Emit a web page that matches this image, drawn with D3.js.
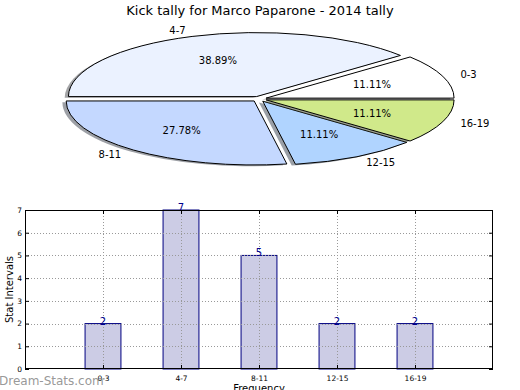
<!DOCTYPE html>
<html>
<head>
<style>
body { margin: 0; background: #fff; }
svg text { font-family: "DejaVu Sans", sans-serif; }
</style>
<script src="https://d3js.org/d3.v7.min.js"></script>
</head>
<body>
<svg width="520" height="390"></svg>
<script>
// data
var categories = ["0-3", "4-7", "8-11", "12-15", "16-19"];
var counts = [2, 7, 5, 2, 2];
var sliceColors = ["#ffffff", "#ebf2ff", "#c4d8ff", "#b0d4ff", "#d0e98a"];
var explode = [0.04, 0.04, 0.04, 0.04, 0.04];
var yTicks = [0, 1, 2, 3, 4, 5, 6, 7];

var svg = d3.select("svg");

svg.append("text")
  .attr("x", 260).attr("y", 15)
  .attr("text-anchor", "middle")
  .style("font-size", "13px")
  .text("Kick tally for Marco Paparone - 2014 tally");

// ---- pie (ellipse: unit circle scaled) ----
var cx = 259, cy = 99, rx = 188, ry = 64;
var total = d3.sum(counts);

// counterclockwise from 3 o'clock, like matplotlib
var pie = d3.pie().sort(null)
  .startAngle(Math.PI / 2)
  .endAngle(Math.PI / 2 - 2 * Math.PI);
var arcs = pie(counts);
var arc = d3.arc().innerRadius(0).outerRadius(1);

var pg = svg.append("g")
  .attr("transform", "translate(" + cx + "," + cy + ") scale(" + rx + "," + ry + ")");

arcs.forEach(function(d, i) {
  var mid = (d.startAngle + d.endAngle) / 2;
  var dx = Math.sin(mid) * explode[i], dy = -Math.cos(mid) * explode[i];
  var c = d3.color(sliceColors[i]);
  var shade = d3.rgb(c.r * 0.3, c.g * 0.3, c.b * 0.3);
  pg.append("path")
    .attr("d", arc(d))
    .attr("transform", "translate(" + (dx - 0.02) + "," + (dy + 0.02) + ")")
    .attr("fill", shade)
    .attr("fill-opacity", 0.5);
  pg.append("path")
    .attr("d", arc(d))
    .attr("transform", "translate(" + dx + "," + dy + ")")
    .attr("fill", sliceColors[i])
    .attr("stroke", "#000")
    .attr("stroke-width", 1)
    .attr("vector-effect", "non-scaling-stroke");
});

arcs.forEach(function(d, i) {
  var mid = (d.startAngle + d.endAngle) / 2;
  var ux = Math.sin(mid), uy = -Math.cos(mid);
  var e = explode[i];
  var lx = cx + ux * (1.1 + e) * rx, ly = cy + uy * (1.1 + e) * ry;
  svg.append("text")
    .attr("x", lx).attr("y", ly)
    .attr("dy", "0.35em")
    .attr("text-anchor", ux > 0 ? "start" : "end")
    .style("font-size", "10px")
    .text(categories[i]);
  var px = cx + ux * (0.6 + e) * rx, py = cy + uy * (0.6 + e) * ry;
  svg.append("text")
    .attr("x", px).attr("y", py)
    .attr("dy", "0.35em")
    .attr("text-anchor", "middle")
    .style("font-size", "10px")
    .text((counts[i] / total * 100).toFixed(2) + "%");
});

// ---- bar chart ----
var bLeft = 25, bRight = 493, bTop = 210, bBottom = 369;
var x = d3.scaleLinear().domain([0, categories.length + 1]).range([bLeft, bRight]);
var y = d3.scaleLinear().domain([0, 7]).range([bBottom, bTop]);
var barW = (x(1) - x(0)) * 0.46;

var bg = svg.append("g");

bg.selectAll("rect.bar")
  .data(counts)
  .enter().append("rect")
  .attr("class", "bar")
  .attr("x", function(d, i) { return x(i + 1) - barW / 2; })
  .attr("y", function(d) { return y(d); })
  .attr("width", barW)
  .attr("height", function(d) { return y(0) - y(d); })
  .attr("fill", "#ccccE5")
  .attr("stroke", "#000080")
  .attr("stroke-width", 1);

// dotted grid on top of bars
bg.selectAll("line.gy")
  .data(yTicks.slice(1, -1))
  .enter().append("line")
  .attr("x1", bLeft).attr("x2", bRight)
  .attr("y1", function(d) { return Math.round(y(d)) + 0.5; })
  .attr("y2", function(d) { return Math.round(y(d)) + 0.5; })
  .attr("stroke", "#999")
  .attr("stroke-dasharray", "1,2");
bg.selectAll("line.gx")
  .data(categories)
  .enter().append("line")
  .attr("x1", function(d, i) { return Math.round(x(i + 1)) + 0.5; })
  .attr("x2", function(d, i) { return Math.round(x(i + 1)) + 0.5; })
  .attr("y1", bTop).attr("y2", bBottom)
  .attr("stroke", "#999")
  .attr("stroke-dasharray", "1,2");

// value labels
bg.selectAll("text.val")
  .data(counts)
  .enter().append("text")
  .attr("x", function(d, i) { return x(i + 1); })
  .attr("y", function(d) { return y(d) + 1; })
  .attr("text-anchor", "middle")
  .attr("fill", "#00008b")
  .style("font-size", "10px")
  .text(function(d) { return d; });

// frame
bg.append("rect")
  .attr("x", bLeft + 0.5).attr("y", bTop + 0.5)
  .attr("width", bRight - bLeft - 1).attr("height", bBottom - bTop - 1)
  .attr("fill", "none").attr("stroke", "#000");

// axes with inward ticks
var yAxisL = d3.axisLeft(y).tickValues(yTicks).tickSize(-4).tickPadding(3)
  .tickFormat(d3.format("d"));
var yAxisR = d3.axisRight(y).tickValues(yTicks).tickSize(-4).tickFormat("");
var xAxisB = d3.axisBottom(x).tickValues(d3.range(1, categories.length + 1))
  .tickSize(-4).tickPadding(7).tickFormat(function(d) { return categories[d - 1]; });
var xAxisT = d3.axisTop(x).tickValues(d3.range(1, categories.length + 1))
  .tickSize(-4).tickFormat("");

[[yAxisL, "translate(" + bLeft + ",0)"], [yAxisR, "translate(" + bRight + ",0)"],
 [xAxisB, "translate(0," + bBottom + ")"], [xAxisT, "translate(0," + bTop + ")"]].forEach(function(a) {
  var g = bg.append("g").attr("transform", a[1]).call(a[0]);
  g.select(".domain").remove();
  g.selectAll("text").style("font-size", "7.5px").attr("fill", "#000");
});

svg.append("text")
  .attr("transform", "translate(13," + ((bTop + bBottom) / 2) + ") rotate(-90)")
  .attr("text-anchor", "middle")
  .style("font-size", "10px")
  .text("Stat Intervals");

svg.append("text")
  .attr("x", x(3)).attr("y", 392)
  .attr("text-anchor", "middle")
  .style("font-size", "10px")
  .text("Frequency");

svg.append("text")
  .attr("x", -1).attr("y", 385)
  .attr("fill", "#8c8c8c")
  .attr("fill-opacity", 0.9)
  .style("font-size", "12px")
  .text("Dream-Stats.com");
</script>
</body>
</html>
